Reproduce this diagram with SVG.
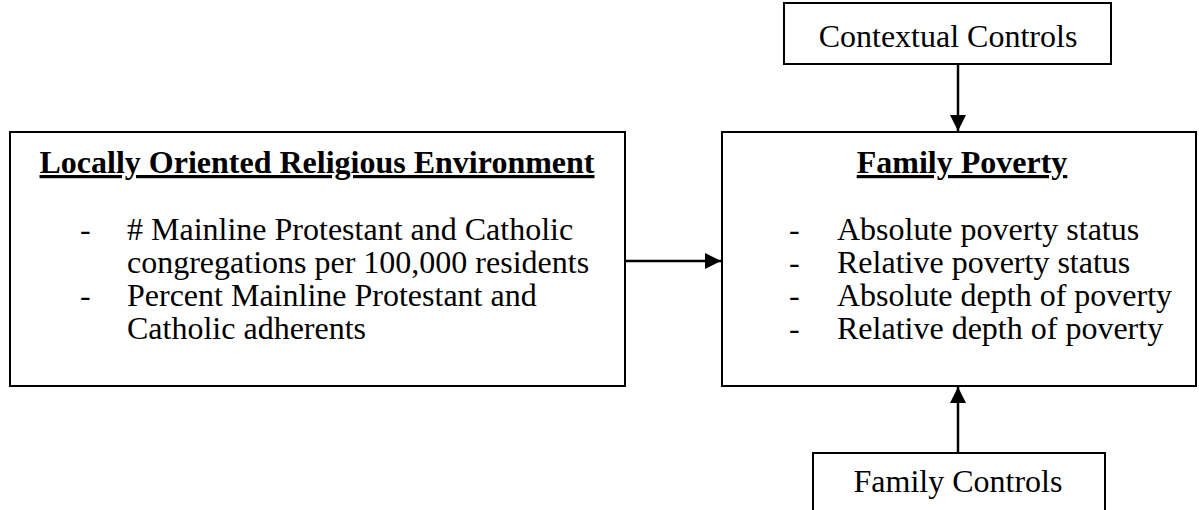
<svg xmlns="http://www.w3.org/2000/svg" width="1199" height="510" viewBox="0 0 1199 510">
<defs>
<style>
.box{fill:#fff;stroke:#000;stroke-width:2}
.t{font-family:"Liberation Serif","Times New Roman",serif;font-size:32px;fill:#000}
.b{font-weight:bold;text-decoration:underline}
.c{text-anchor:middle}
.ln{stroke:#000;stroke-width:2.5;fill:none}
</style>
<marker id="ah" viewBox="0 0 10 10" refX="10" refY="5" markerWidth="6.5" markerHeight="6.5" markerUnits="strokeWidth" orient="auto">
<path d="M0,0 L10,5 L0,10 z" fill="#000"/>
</marker>
</defs>
<rect width="1199" height="510" fill="#fff"/>
<g id="edges">
<line class="ln" x1="958" y1="64" x2="958" y2="131" marker-end="url(#ah)"/>
<line class="ln" x1="958" y1="453" x2="958" y2="387" marker-end="url(#ah)"/>
<line class="ln" x1="625" y1="261" x2="721" y2="261" marker-end="url(#ah)"/>
</g>
<g id="religious">
<rect class="box" x="10" y="132" width="615" height="254"/>
<text class="t b c" x="317" y="173">Locally Oriented Religious Environment</text>
<text class="t" x="80" y="240">-</text>
<text class="t" x="127" y="240"># Mainline Protestant and Catholic</text>
<text class="t" x="127" y="273">congregations per 100,000 residents</text>
<text class="t" x="80" y="306">-</text>
<text class="t" x="127" y="306">Percent Mainline Protestant and</text>
<text class="t" x="127" y="339">Catholic adherents</text>
</g>
<g id="poverty">
<rect class="box" x="722" y="132" width="474" height="254"/>
<text class="t b c" x="962" y="173">Family Poverty</text>
<text class="t" x="789" y="240">-</text>
<text class="t" x="837" y="240">Absolute poverty status</text>
<text class="t" x="789" y="273">-</text>
<text class="t" x="837" y="273">Relative poverty status</text>
<text class="t" x="789" y="306">-</text>
<text class="t" x="837" y="306">Absolute depth of poverty</text>
<text class="t" x="789" y="339">-</text>
<text class="t" x="837" y="339">Relative depth of poverty</text>
</g>
<g id="contextual">
<rect class="box" x="784" y="3" width="327" height="61"/>
<text class="t c" x="948" y="47">Contextual Controls</text>
</g>
<g id="family">
<rect class="box" x="813" y="453" width="292" height="70"/>
<text class="t c" x="958" y="492">Family Controls</text>
</g>
</svg>
